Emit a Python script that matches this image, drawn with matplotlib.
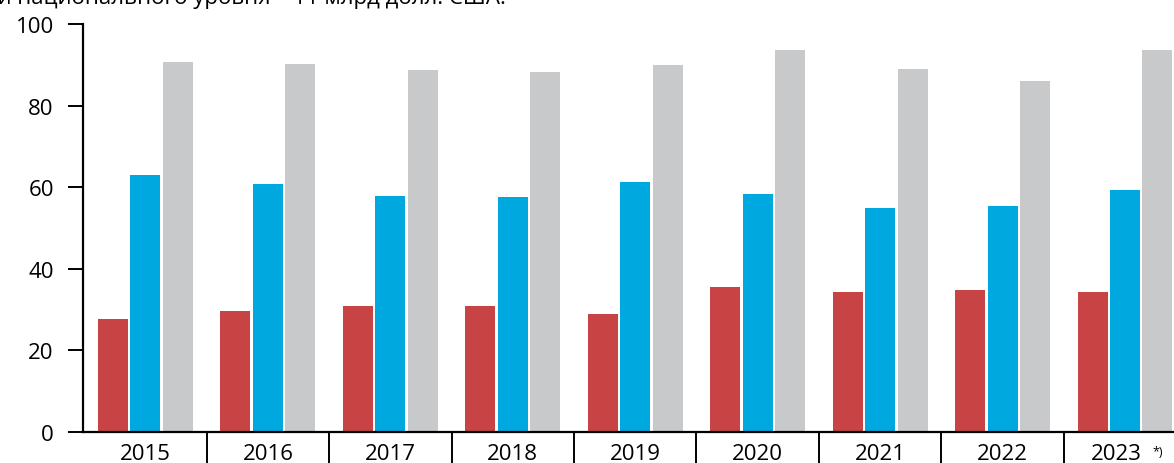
import numpy as np
import matplotlib
matplotlib.use("Agg")
import matplotlib.pyplot as plt
from matplotlib.transforms import ScaledTranslation

plt.rcParams['font.family'] = ['Open Sans', 'DejaVu Sans']

years = ['2015', '2016', '2017', '2018', '2019', '2020', '2021', '2022', '2023']
red_vals = [27.7, 29.7, 30.9, 30.9, 28.9, 35.5, 34.3, 34.8, 34.3]
blue_vals = [63.0, 60.8, 57.8, 57.6, 61.3, 58.3, 54.9, 55.4, 59.3]
gray_vals = [90.7, 90.2, 88.7, 88.2, 90.0, 93.6, 89.0, 86.0, 93.6]
yticks = [0, 20, 40, 60, 80, 100]

red = '#C84444'
blue = '#00A8E0'
gray = '#C8C9CB'

fig = plt.figure(figsize=(11.74, 4.64), dpi=100)
ax = fig.add_axes([83/1174, 31/464, 1 - 83/1174, 408/464])

x = np.arange(len(years))
w = 0.245
step = 0.265
ax.bar(x - step, red_vals, w, color=red)
ax.bar(x, blue_vals, w, color=blue)
ax.bar(x + step, gray_vals, w, color=gray)

ax.set_ylim(0, 100)
ax.set_xlim(-0.51, 8.40)

for s in ['top', 'right']:
    ax.spines[s].set_visible(False)
ax.spines['left'].set_linewidth(1.6)
ax.spines['bottom'].set_linewidth(1.6)

ax.set_yticks(yticks)
ax.tick_params(axis='y', length=11, width=1.4, pad=10, labelsize=16, colors='black')

ax.set_xticks(x)
ax.set_xticklabels(years)
ax.tick_params(axis='x', which='major', length=0, pad=8, labelsize=16)
ax.set_xticks(x[:-1] + 0.5, minor=True)
ax.tick_params(axis='x', which='minor', length=24, width=1.4, direction='out')

# last label shifted to leave room for the note mark
lab = ax.get_xticklabels()[-1]
lab.set_transform(lab.get_transform() + ScaledTranslation(-9/100, 0, fig.dpi_scale_trans))
ax.annotate('*)', xy=(x[-1], 0), xycoords='data', xytext=(27, -13),
            textcoords='offset pixels', fontsize=9, ha='left', va='top',
            annotation_clip=False)

fig.text(-0.012, 1.0 - 4/464, 'ки национального уровня – 11 млрд долл. США.',
         fontsize=16, ha='left', va='baseline')

fig.savefig('out.png', dpi=100)
